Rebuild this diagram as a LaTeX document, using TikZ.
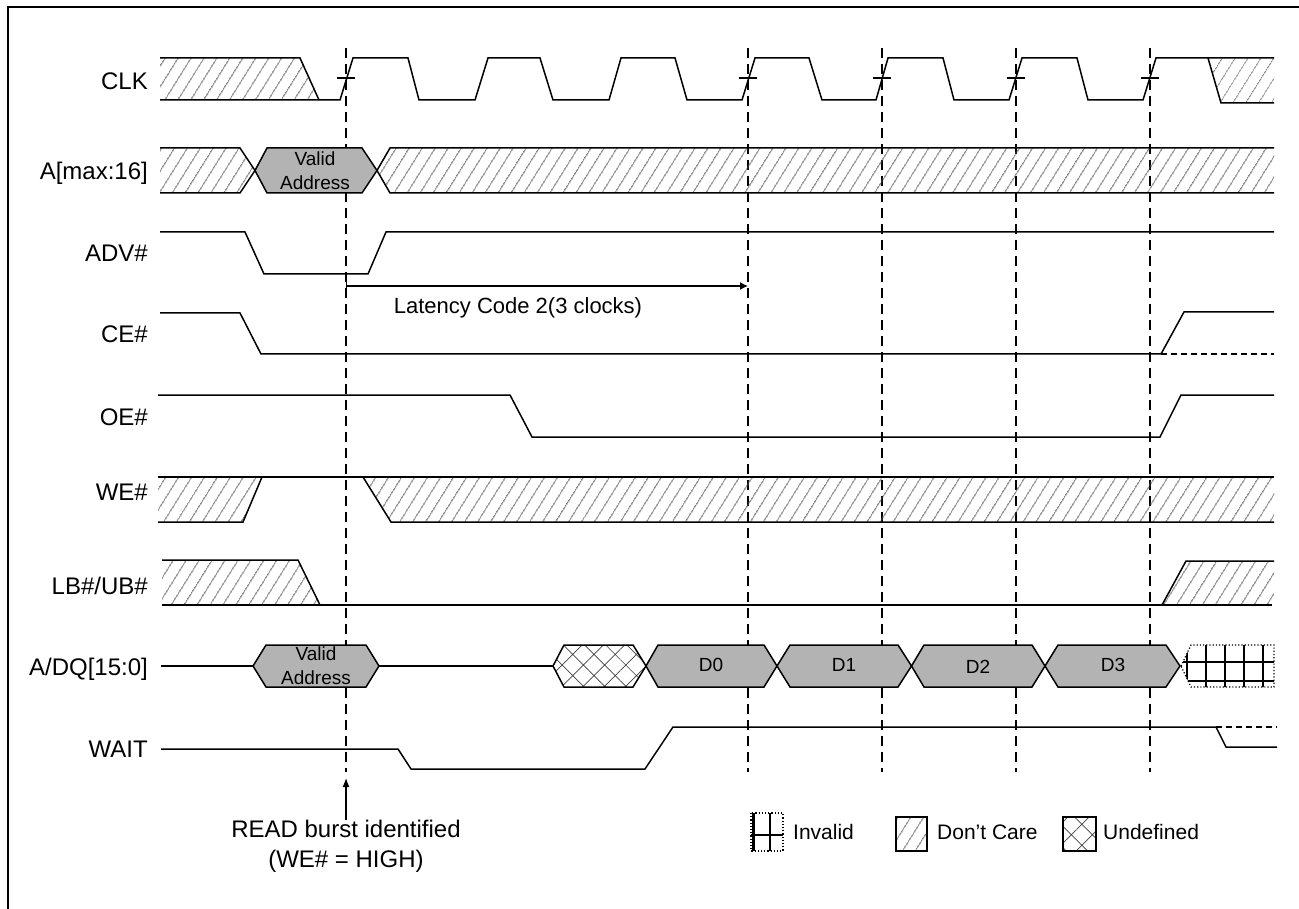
\documentclass[tikz,border=0pt]{standalone}
\usepackage{fontspec}
\setmainfont{Liberation Sans}
\usetikzlibrary{arrows.meta,patterns.meta}
\definecolor{BusGray}{HTML}{B3B3B3}
\definecolor{HatchGray}{HTML}{404040}
\tikzset{
  % Signal line
  sig/.style={line width=1.5pt,line join=miter},
  % Don't care fill
  dcare/.style={pattern={Lines[angle=58,distance=10.5pt,line width=0.7pt]},
                pattern color=HatchGray},
  % Undefined fill
  undef/.style={pattern={Hatch[angle=45,distance=15pt,line width=0.7pt]},
                pattern color=HatchGray},
  % Bus value
  bus/.style={sig,fill=BusGray},
  % Clock reference line
  vref/.style={line width=1.3pt,dash pattern=on 10pt off 6pt},
  % Arrow
  arr/.style={-{Latex[length=9pt,width=7pt]},line width=1.2pt},
  % Text styles
  lbl/.style={anchor=base east,inner sep=0pt,font=\fontsize{24}{29}\selectfont},
  val/.style={align=center,inner sep=0pt,font=\fontsize{19}{24}\selectfont},
  note/.style={align=center,inner sep=0pt,font=\fontsize{24}{30}\selectfont},
  leg/.style={anchor=west,inner sep=0pt,font=\fontsize{21}{25}\selectfont}
}

\begin{document}
\begin{tikzpicture}[x=1pt,y=-1pt]
  \useasboundingbox (0,0) rectangle (1299,909);

  % frame
  \draw[line width=2pt] (8,930) -- (8,7) -- (1320,7);

  %------ LABELS ------
  \node[lbl] (lclk)  at (148,90)  {CLK};
  \node[lbl] (laddr) at (148,180) {A[max:16]};
  \node[lbl] (ladv)  at (148,262) {ADV\#};
  \node[lbl] (lce)   at (148,343) {CE\#};
  \node[lbl] (loe)   at (148,425) {OE\#};
  \node[lbl] (lwe)   at (148,500) {WE\#};
  \node[lbl] (llb)   at (148,594) {LB\#/UB\#};
  \node[lbl] (ldq)   at (148,675) {A/DQ[15:0]};
  \node[lbl] (lwait) at (148,757) {WAIT};

  %------ CLOCK REFERENCE LINES ------
  \draw[vref] (346,48) -- (346,772);
  \draw[vref] (748,48) -- (748,772);
  \draw[vref] (882,48) -- (882,772);
  \draw[vref] (1016,48) -- (1016,772);
  \draw[vref] (1150,48) -- (1150,772);

  %------ CLK ------
  \fill[dcare] (160,58) -- (300,58) -- (319,100) -- (160,100) -- cycle;
  \fill[dcare] (1208,58) -- (1274,58) -- (1274,103) -- (1221,103) -- cycle;
  \draw[sig] (160,58) -- (300,58) -- (319,100);
  \draw[sig] (160,100) -- (340,100) -- (353,58) -- (408,58) -- (419,100)
    -- (475,100) -- (488,58) -- (540,58) -- (553,100) -- (609,100)
    -- (621,58) -- (675,58) -- (687,100) -- (742,100) -- (755,58)
    -- (809,58) -- (822,100) -- (876,100) -- (888,58) -- (943,58)
    -- (954,100) -- (1009,100) -- (1022,58) -- (1077,58) -- (1088,100)
    -- (1143,100) -- (1156,58) -- (1274,58);
  \draw[sig] (1208,58) -- (1221,103) -- (1274,103);
  % edge marks
  \draw[sig] (337,78) -- (355,78);
  \draw[sig] (739,78) -- (757,78);
  \draw[sig] (873,78) -- (891,78);
  \draw[sig] (1007,78) -- (1025,78);
  \draw[sig] (1141,78) -- (1159,78);

  %------ A[max:16] ------
  \fill[dcare] (160,148) -- (240,148) -- (255,170.5) -- (240,193) -- (160,193) -- cycle;
  \draw[sig] (160,148) -- (240,148) -- (255,170.5) -- (240,193) -- (160,193);
  \draw[bus] (255,170.5) -- (267,148) -- (362,148) -- (377,170.5)
    -- (362,193) -- (267,193) -- cycle;
  \node[val] (va1) at (315,171) {Valid\\Address};
  \fill[dcare] (377,170.5) -- (390,148) -- (1274,148) -- (1274,193) -- (390,193) -- cycle;
  \draw[sig] (1274,148) -- (390,148) -- (377,170.5) -- (390,193) -- (1274,193);

  %------ ADV# ------
  \draw[sig] (160,232) -- (245,232) -- (264,274) -- (368,274) -- (386,232) -- (1274,232);

  % latency
  \coordinate (latA) at (346,286);
  \coordinate (latB) at (748,286);
  \draw[{Bar[width=12pt]}-{Latex[length=8pt,width=8pt]},line width=1.2pt] (latA) -- (latB);
  \node[font=\fontsize{22}{26}\selectfont,anchor=base] (lat) at (518,314) {Latency Code 2(3 clocks)};

  %------ CE# ------
  \draw[sig] (160,313) -- (240,313) -- (261,354) -- (1161,354) -- (1184,312) -- (1274,312);
  \draw[line width=1.5pt,dash pattern=on 6pt off 4pt] (1161,354) -- (1274,354);

  %------ OE# ------
  \draw[sig] (158,395) -- (510,395) -- (532,437) -- (1160,437) -- (1181,395) -- (1274,395);

  %------ WE# ------
  \fill[dcare] (158,477) -- (262,477) -- (243,522) -- (158,522) -- cycle;
  \fill[dcare] (363,477) -- (1274,477) -- (1274,522) -- (391,522) -- cycle;
  \draw[sig] (158,477) -- (1274,477);
  \draw[sig] (158,522) -- (243,522) -- (262,477);
  \draw[sig] (363,477) -- (391,522) -- (1274,522);

  %------ LB#/UB# ------
  \fill[dcare] (162,560) -- (298,560) -- (320,605) -- (162,605) -- cycle;
  \fill[dcare] (1162,605) -- (1186,561) -- (1274,561) -- (1274,605) -- cycle;
  \draw[sig] (162,560) -- (298,560) -- (320,605);
  \draw[sig] (162,605) -- (1272,605);
  \draw[sig] (1162,605) -- (1186,561) -- (1274,561);

  %------ A/DQ[15:0] ------
  \draw[sig] (161,666) -- (253,666);
  \draw[bus] (253,666) -- (266,645) -- (366,645) -- (379,666) -- (366,687) -- (266,687) -- cycle;
  \node[val] (va2) at (316,666) {Valid\\Address};
  \draw[sig] (379,666) -- (553,666);
  \filldraw[sig,undef] (553,666) -- (564,645) -- (633,645) -- (646,666) -- (633,687) -- (564,687) -- cycle;
  \draw[bus] (646,666) -- (658,645) -- (764,645) -- (777,666) -- (764,687) -- (658,687) -- cycle;
  \draw[bus] (777,666) -- (790,645) -- (898,645) -- (911.5,666) -- (898,687) -- (790,687) -- cycle;
  \draw[bus] (911.5,666) -- (924,645) -- (1032,645) -- (1045,666) -- (1032,687) -- (924,687) -- cycle;
  \draw[bus] (1045,666) -- (1058,645) -- (1166,645) -- (1180,666) -- (1166,687) -- (1058,687) -- cycle;
  \node[val] (d0) at (711,665) {D0};
  \node[val] (d1) at (844,665) {D1};
  \node[val] (d2) at (978,667) {D2};
  \node[val] (d3) at (1113,665) {D3};
  % invalid
  \begin{scope}
    \clip (1181,666) -- (1191,645) -- (1274,645) -- (1274,687) -- (1191,687) -- cycle;
    \draw[line width=2.5pt] (1187,640) -- (1187,692) (1206,640) -- (1206,692)
      (1225,640) -- (1225,692) (1244,640) -- (1244,692) (1263,640) -- (1263,692)
      (1175,662) -- (1280,662) (1175,681) -- (1280,681);
  \end{scope}
  \draw[line width=1.2pt,dotted] (1181,666) -- (1191,645) -- (1274,645) -- (1274,687) -- (1191,687) -- cycle;

  %------ WAIT ------
  \draw[sig] (161,749) -- (398,749) -- (411,769) -- (645,769) -- (673,727) -- (1216,727) -- (1226,747) -- (1277,747);
  \draw[line width=1.5pt,dash pattern=on 6pt off 4pt] (1216,727) -- (1277,727);

  %------ NOTE ------
  \node[note,anchor=north] (rbid) at (346,820) {READ burst identified\\(WE\# = HIGH)};
  \coordinate (rbtip) at (346,778);
  \draw[arr] (rbid.north) -- (rbtip);

  %------ LEGEND ------
  \draw[line width=1.2pt,dotted] (751,813) rectangle (783,851);
  \draw[line width=2.2pt] (753.5,813) -- (753.5,851) (770,813) -- (770,851) (751,835) -- (783,835);
  \node[leg] (linv) at (793,832) {Invalid};
  \filldraw[line width=1.5pt,dcare] (896,817) rectangle (927,851);
  \node[leg] (ldc) at (937,832) {Don’t Care};
  \filldraw[line width=1.5pt,undef] (1063,817) rectangle (1096,851);
  \node[leg] (lund) at (1103,832) {Undefined};
\end{tikzpicture}
\end{document}
